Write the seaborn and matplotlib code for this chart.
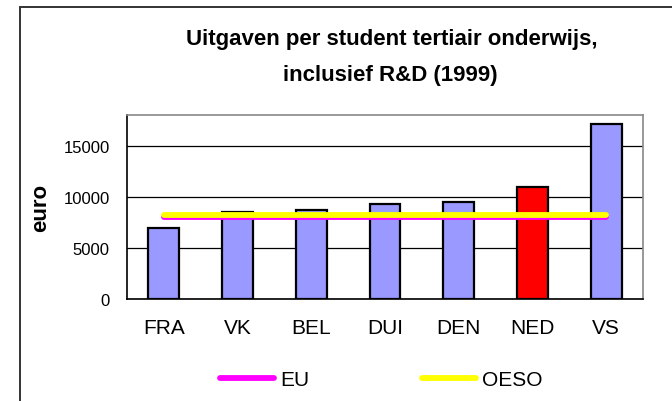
import matplotlib
matplotlib.use("Agg")
import matplotlib.pyplot as plt
import matplotlib.patches as mpatches
from matplotlib.lines import Line2D
from matplotlib.ticker import FixedLocator
import seaborn as sns

# ── data ────────────────────────────────────────────────────────────────
landen = ["FRA", "VK", "BEL", "DUI", "DEN", "NED", "VS"]
uitgaven = [6900, 8500, 8700, 9300, 9500, 11000, 17100]
bar_kleuren = ["#9999FF", "#9999FF", "#9999FF", "#9999FF", "#9999FF", "#FF0000", "#9999FF"]
eu_niveau = 8050
oeso_niveau = 8250
y_ticks = [0, 5000, 10000, 15000]

sns.set_theme(style="white")
plt.rcParams["font.family"] = ["Liberation Sans", "DejaVu Sans"]
plt.rcParams["text.color"] = "black"
plt.rcParams["axes.labelcolor"] = "black"

fig = plt.figure(figsize=(6.72, 4.02), dpi=100)
fig.patch.set_facecolor("white")
ax = fig.add_axes([127 / 672, 1 - 300 / 402, 516 / 672, 184 / 402])

sns.barplot(x=landen, y=uitgaven, hue=landen, palette=bar_kleuren, legend=False,
            width=0.42, edgecolor="black", linewidth=1.6, saturation=1, ax=ax)

# EU / OESO reference lines from first to last category
x_lijn = [0, len(landen) - 1]
ax.plot(x_lijn, [eu_niveau, eu_niveau], color="#FF00FF", lw=4.2,
        solid_capstyle="round", zorder=5)
ax.plot(x_lijn, [oeso_niveau, oeso_niveau], color="#FFFF00", lw=4.2,
        solid_capstyle="round", zorder=6)

ax.set_xlim(-0.5, len(landen) - 0.5)
ax.set_ylim(0, 18000)
ax.set_yticks(y_ticks)
ax.set_yticklabels([str(v) for v in y_ticks], fontsize=12)
ax.yaxis.grid(True, color="black", lw=0.9)
ax.set_axisbelow(True)

ax.xaxis.set_minor_locator(FixedLocator([i - 0.5 for i in range(len(landen) + 1)]))
ax.tick_params(axis="x", which="major", length=0, pad=13.5, labelsize=15)
ax.tick_params(axis="x", which="minor", length=6, width=1, color="black", direction="out")
ax.tick_params(axis="y", length=7, width=1, color="black", direction="out", pad=5.5)
ax.tick_params(axis="both", colors="black")
ax.set_xlabel("")
ax.set_ylabel("euro", fontsize=16, fontweight="bold", labelpad=9, color="black")

for s in ["left", "bottom"]:
    ax.spines[s].set_color("black")
    ax.spines[s].set_linewidth(1.2)
for s in ["top", "right"]:
    ax.spines[s].set_color("#888888")
    ax.spines[s].set_linewidth(1.2)

fig.text(392 / 672, 1 - 40 / 402, "Uitgaven per student tertiair onderwijs,",
         ha="center", va="center", fontsize=16, fontweight="bold", color="black")
fig.text(390 / 672, 1 - 75 / 402, "inclusief R&D (1999)",
         ha="center", va="center", fontsize=16, fontweight="bold", color="black")

handles = [
    Line2D([], [], color="#FF00FF", lw=4.2, solid_capstyle="round"),
    Line2D([], [], color="#FFFF00", lw=4.2, solid_capstyle="round"),
]
fig.legend(handles, ["EU", "OESO"], loc="center", ncol=2,
           bbox_to_anchor=(381 / 672, 1 - 381 / 402), frameon=False,
           fontsize=15, handlelength=2.6, handletextpad=0.3, columnspacing=5.4,
           labelcolor="black")

# outer chart frame (extends past the picture edge)
fig.patches.append(mpatches.Rectangle((20 / 672, -0.2), 1.2, 1.2 - 8 / 402,
                                      transform=fig.transFigure, fill=False,
                                      edgecolor="#333333", lw=1.4))

fig.savefig("out.png", dpi=100)
